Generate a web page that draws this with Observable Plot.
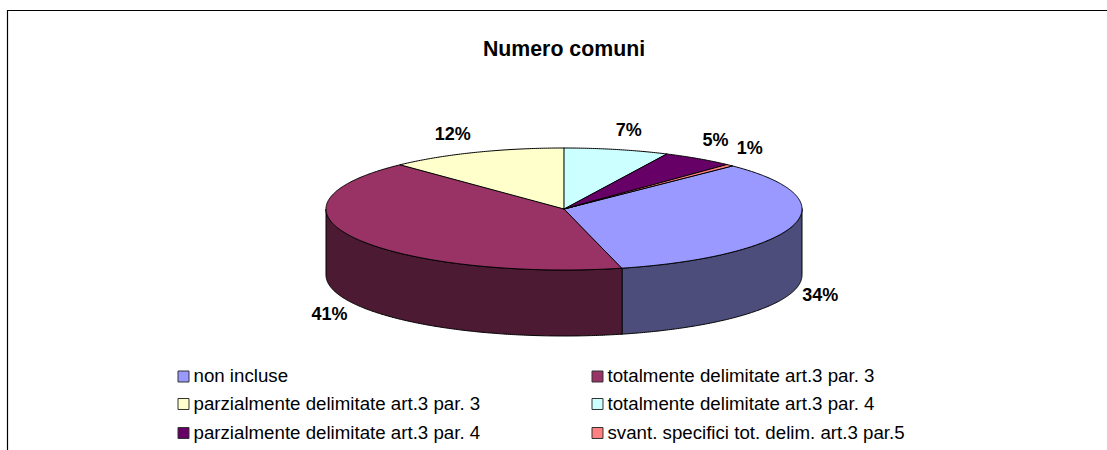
<!DOCTYPE html>
<html>
<head>
<meta charset="utf-8">
<style>html,body{margin:0;padding:0;background:#fff}svg{display:block}</style>
<script src="https://cdn.jsdelivr.net/npm/d3@7"></script>
<script src="https://cdn.jsdelivr.net/npm/@observablehq/plot@0.6"></script>
</head>
<body>
<div id="chart"></div>
<script>
const title = "Numero comuni";
const categories = [
  "non incluse",
  "totalmente delimitate art.3 par. 3",
  "parzialmente delimitate art.3 par. 3",
  "totalmente delimitate art.3 par. 4",
  "parzialmente delimitate art.3 par. 4",
  "svant. specifici tot. delim. art.3 par.5"
];
const shares = [33.6, 41.8, 12.1, 7.1, 4.9, 0.5];
const labels = ["34%", "41%", "12%", "7%", "5%", "1%"];
const topColors = ["#9999ff", "#993366", "#ffffcc", "#ccffff", "#660066", "#ff8080"];
const sideColors = ["#4d4d7c", "#4c1a33", "#808066", "#668080", "#330033", "#804040"];

// Layout of the tilted disc and the frame, in the page's pixel space
const W = 1107, H = 450;
const cx = 563.5, cy = 208.5, rx = 238, ry = 61, depth = 66, firstAngle = 45;
const labelNudge = [[27, 4], [-26, 10], [-23, -18], [12, -19], [17, -18], [20, -17]];
const font = "'Liberation Sans', Arial, sans-serif";

const rad = d => d * Math.PI / 180;
const onRim = (deg, drop = 0) => ({x: cx + rx * Math.sin(rad(deg)), y: cy - ry * Math.cos(rad(deg)) + drop});

let start = firstAngle;
const slices = shares.map((v, i) => {
  const a0 = start, a1 = start + v * 3.6;
  start = a1;
  return {i, a0, a1, mid: (a0 + a1) / 2};
});
const arcPts = (a0, a1, drop = 0) => {
  const n = Math.max(2, Math.ceil(a1 - a0) * 2);
  return d3.range(n + 1).map(k => onRim(a0 + (a1 - a0) * k / n, drop));
};
const topPoly = s => [{x: cx, y: cy}, ...arcPts(s.a0, s.a1)];
const sidePoly = s => {
  const a0 = Math.max(s.a0, 90), a1 = Math.min(s.a1, 270);
  if (a1 <= a0) return null;
  return [...arcPts(a0, a1), ...arcPts(a0, a1, depth).reverse()];
};
const poly = (pts, fill, strokeWidth = 1) =>
  Plot.line(pts, {x: "x", y: "y", fill, stroke: "#000", strokeWidth, curve: "linear-closed"});

const labelRows = slices.map(s => {
  const front = s.mid > 90 && s.mid < 270;
  const p = onRim(s.mid, front ? depth : 0);
  return {x: p.x + labelNudge[s.i][0], y: p.y + labelNudge[s.i][1], text: labels[s.i]};
});

const legendCols = [183, 597];
const legendRows = [376, 403.5, 432.5];
const legend = categories.map((name, i) => ({
  name,
  x: legendCols[i % 2],
  y: legendRows[Math.floor(i / 2)],
  color: topColors[i]
}));

const chart = Plot.plot({
  width: W, height: H, margin: 0,
  x: {domain: [0, W], range: [0, W], axis: null},
  y: {domain: [0, H], range: [0, H], axis: null},
  style: {background: "#fff", fontFamily: font},
  marks: [
    Plot.ruleY([10], {x1: 7, x2: W, stroke: "#000", strokeWidth: 1.2}),
    Plot.ruleX([7], {y1: 10, y2: H, stroke: "#000", strokeWidth: 1.2}),
    Plot.text([title], {x: () => cx, y: () => 49, text: d => d, fontSize: 21.3, fontWeight: "bold", fill: "#000"}),
    ...slices.map(s => sidePoly(s) && poly(sidePoly(s), sideColors[s.i])).filter(Boolean),
    ...slices.map(s => poly(topPoly(s), topColors[s.i])),
    Plot.text(labelRows, {x: "x", y: "y", text: "text", fontSize: 18, fontWeight: "bold", fill: "#000"}),
    Plot.dot(legend, {x: "x", y: "y", symbol: "square", r: 6.2, fill: "color", stroke: "#333", strokeWidth: 1}),
    Plot.text(legend, {x: "x", y: "y", text: "name", textAnchor: "start", dx: 10, fontSize: 18.7, fill: "#000"})
  ]
});
document.getElementById("chart").append(chart);
</script>
</body>
</html>
